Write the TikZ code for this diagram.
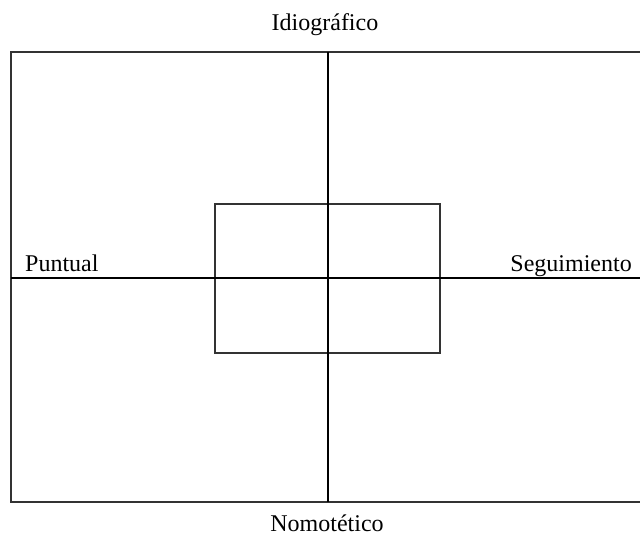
\documentclass[tikz,border=0pt]{standalone}
\usepackage{fontspec}
\setmainfont{Liberation Serif}
\begin{document}
\begin{tikzpicture}[x=1pt,y=-1pt,
  frame/.style={draw=black!80,line width=1.2pt},
  axis/.style={draw=black,line width=2pt},
  lbl/.style={font=\fontsize{24}{28}\selectfont,inner sep=0pt}]
\useasboundingbox (0,0) rectangle (640,537);
\draw[frame] (11,52) rectangle (642,502);
\draw[frame] (215,204) rectangle (440,353);
\coordinate (top) at (327.5,52);
\coordinate (bot) at (327.5,502);
\coordinate (lft) at (11,278);
\coordinate (rgt) at (642,278);
\draw[axis] (top) -- (bot);
\draw[axis] (lft) -- (rgt);
\node[lbl,anchor=base] (idio) at (325,31) {Idiográfico};
\node[lbl,anchor=base] (nomo) at (327,531) {Nomotético};
\node[lbl,anchor=base west] (punt) at (25,272) {Puntual};
\node[lbl,anchor=base east] (segu) at (632,272) {Seguimiento};
\end{tikzpicture}
\end{document}
